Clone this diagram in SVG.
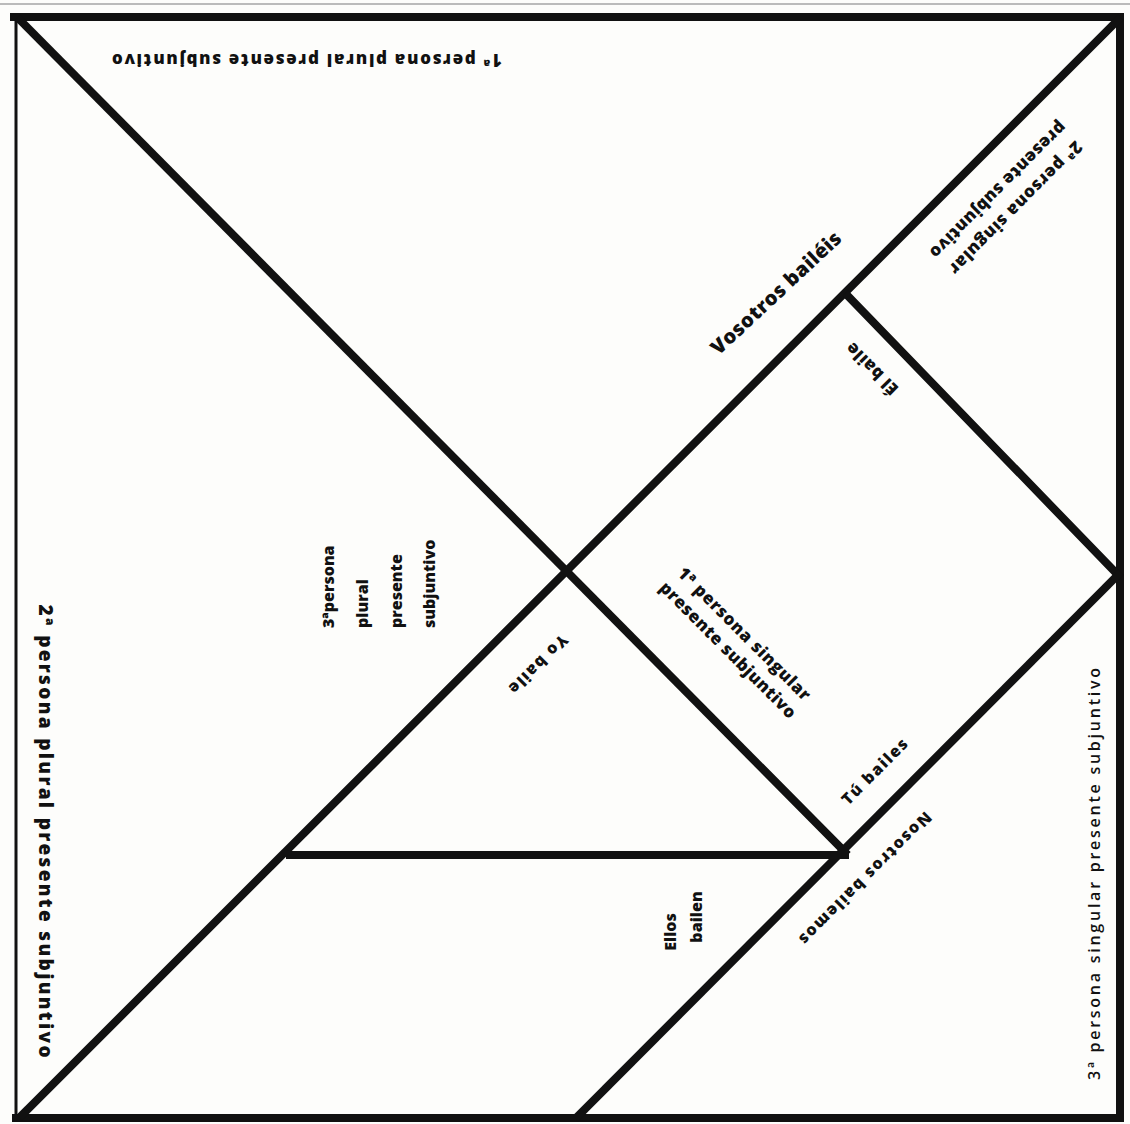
<svg xmlns="http://www.w3.org/2000/svg" width="1130" height="1124" viewBox="0 0 1130 1124">
<style>
.ln{stroke:#111;stroke-width:8;fill:none;stroke-linecap:square}
.t{font-family:"Open Sans","Liberation Sans",sans-serif;font-weight:800;fill:#111}
</style>
<rect width="1130" height="1124" fill="#fdfdfb"/>
<line x1="0" y1="4" x2="1130" y2="4" stroke="#bbb" stroke-width="2"/>
<g id="connectors">
<line class="ln" x1="16" y1="16" x2="16" y2="1118" style="stroke-width:3"/>
<line class="ln" x1="14" y1="17" x2="1120" y2="17"/>
<line class="ln" x1="1120" y1="17" x2="1120" y2="1118"/>
<line class="ln" x1="16" y1="1118" x2="1120" y2="1118"/>
<line class="ln" x1="20" y1="20" x2="845" y2="852"/>
<line class="ln" x1="1118" y1="20" x2="22" y2="1115"/>
<line class="ln" x1="848" y1="296" x2="1118" y2="575"/>
<line class="ln" x1="1118" y1="575" x2="578" y2="1116"/>
<line class="ln" x1="290" y1="855" x2="845" y2="855"/>
</g>
<g id="t1"><text class="t" font-size="17" text-anchor="middle" transform="translate(307,60) rotate(180)" dy="6" textLength="390">1ª persona plural presente subjuntivo</text></g>
<g id="t2"><g transform="translate(1006,198) rotate(135)">
<text class="t" font-size="17" text-anchor="middle" y="-8" textLength="180">2ª persona singular</text>
<text class="t" font-size="17" text-anchor="middle" y="17" textLength="185">presente subjuntivo</text>
</g></g>
<g id="t3"><text class="t" font-size="20" text-anchor="middle" transform="translate(776,293) rotate(-43)" dy="7" textLength="170">Vosotros  bailéis</text></g>
<g id="t4"><text class="t" font-size="17" text-anchor="middle" transform="translate(872,369) rotate(-135)" dy="6" textLength="66">Él baile</text></g>
<g id="t5"><g class="t" font-size="16" transform="translate(0,628) rotate(-90)">
<text x="0" y="334">3ªpersona</text>
<text x="0" y="368">plural</text>
<text x="0" y="402">presente</text>
<text x="0" y="435">subjuntivo</text>
</g></g>
<g id="t6"><text class="t" font-size="16" text-anchor="middle" transform="translate(538,664) rotate(135)" dy="5" textLength="76">Yo baile</text></g>
<g id="t7"><g transform="translate(733,645) rotate(45)">
<text class="t" font-size="17" text-anchor="middle" y="-10" textLength="180">1ª persona singular</text>
<text class="t" font-size="17" text-anchor="middle" y="13" textLength="185">presente subjuntivo</text>
</g></g>
<g id="t8"><text class="t" font-size="16" text-anchor="middle" transform="translate(875,772) rotate(-45)" dy="5" textLength="86">Tú bailes</text></g>
<g id="t9"><text class="t" font-size="16" text-anchor="middle" transform="translate(865,878) rotate(135)" dy="5" textLength="180">Nosotros bailemos</text></g>
<g id="t10"><text class="t" font-size="16" text-anchor="middle" transform="translate(671,932) rotate(-90)" dy="5">Ellos</text>
<text class="t" font-size="16" text-anchor="middle" transform="translate(697,917) rotate(-90)" dy="5">bailen</text></g>
<g id="t11"><text class="t" font-size="19" text-anchor="middle" transform="translate(45,831) rotate(90)" dy="6" textLength="453">2ª  persona  plural  presente  subjuntivo</text></g>
<g id="t12"><text class="t" font-size="16" style="font-weight:600" text-anchor="middle" transform="translate(1095,874) rotate(-90)" dy="5" textLength="412">3ª persona singular presente subjuntivo</text></g>
</svg>
